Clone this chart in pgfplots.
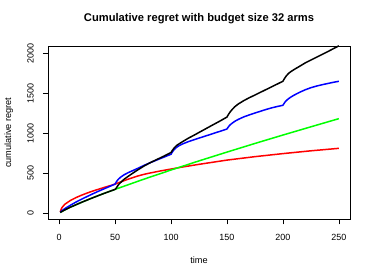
\documentclass[border=0pt]{standalone}
\usepackage{fontspec}
\setmainfont{Liberation Sans}
\usepackage{pgfplots}
\pgfplotsset{compat=1.18}
\begin{document}
\begin{tikzpicture}
\path[use as bounding box] (0,0) rectangle (374bp,279bp);
\begin{axis}[
  at={(48bp,59.7bp)}, anchor=south west,
  scale only axis, width=302bp, height=173.3bp,
  xmin=-9.96, xmax=259.96, ymin=-75, ymax=2091,
  xtick={0,50,...,250}, ytick={0,500,...,2000},
  tick align=outside, xtick pos=bottom, ytick pos=left,
  major tick length=5bp,
  tick style={black, line width=0.6bp},
  axis line style={line width=0.75bp, black},
  /pgf/number format/assume math mode=true,
  /pgf/number format/1000 sep={},
  ticklabel style={font=\fontsize{9}{10}\selectfont},
  xticklabel style={anchor=north, inner sep=0pt, yshift=-9.4bp},
  yticklabel style={rotate=90, anchor=south, inner sep=0pt, yshift=9bp},
  title={Cumulative regret with budget size 32 arms},
  title style={at={(axis description cs:0.5,1.108)}, anchor=base, inner sep=0pt, font=\fontsize{11.2}{12}\selectfont\bfseries},
  xlabel={time},
  xlabel style={at={(axis description cs:0.5,-0.2555)}, anchor=base, inner sep=0pt, font=\fontsize{9.2}{10}\selectfont},
  ylabel={cumulative regret},
  ylabel style={at={(axis description cs:-0.1225,0.5)}, rotate=0, anchor=base, inner sep=0pt, font=\fontsize{9.2}{10}\selectfont},
  every axis plot/.append style={line width=1.5bp, mark=none, line join=round},
]
\addplot[color={rgb,255:red,255;green,0;blue,0}] coordinates {
(1,15)(2,58)(3,80)(5,112)(10,160)(15,196)(20,226)(25,253)(30,278)(35,300)(40,322)(45,343)(50,365)(55,392)(60,418)(65,442)(70,465)(75,484)(80,500)(90,528)(100,553)(110,578)(125,612)(150,665)(175,708)(200,746)(225,781)(250,812)
};
\addplot[color={rgb,255:red,0;green,255;blue,0}] coordinates {
(1,11)(5,42)(10,76)(20,137)(30,194)(40,248)(50,299)(75,423)(100,541)(125,655)(150,765)(175,873)(200,978)(225,1081)(250,1183)
};
\addplot[color={rgb,255:red,0;green,0;blue,255}] coordinates {
(1,15)(3,38)(5,58)(10,100)(15,140)(20,176)(25,210)(30,243)(35,275)(40,305)(45,335)(50,365)(51,390)(52,410)(53,427)(55,452)(58,481)(62,510)(66,535)(70,560)(76,600)(82,636)(88,670)(94,704)(100,738)(101,762)(102,782)(103,798)(105,825)(107,843)(110,865)(115,893)(120,917)(125,940)(130,962)(135,985)(140,1008)(145,1030)(150,1054)(151,1075)(152,1093)(153,1108)(155,1130)(157,1150)(160,1173)(165,1205)(170,1230)(175,1253)(180,1276)(185,1298)(190,1318)(195,1335)(200,1350)(201,1372)(202,1392)(203,1408)(205,1432)(207,1452)(210,1477)(215,1513)(220,1544)(225,1570)(230,1590)(235,1607)(240,1622)(245,1637)(250,1650)
};
\addplot[color=black] coordinates {
(1,11)(5,42)(10,76)(20,137)(30,194)(40,248)(50,299)(51,315)(52,336)(53,356)(54,372)(56,398)(58,425)(62,465)(66,503)(70,540)(76,592)(82,637)(88,677)(94,717)(100,760)(101,782)(102,802)(103,820)(105,848)(108,875)(110,893)(115,935)(120,972)(126,1018)(132,1064)(138,1110)(144,1155)(150,1203)(151,1228)(152,1250)(153,1270)(155,1303)(157,1332)(160,1365)(165,1408)(170,1445)(175,1478)(180,1513)(185,1547)(190,1582)(195,1616)(200,1650)(201,1675)(202,1697)(203,1717)(205,1748)(207,1770)(210,1797)(215,1838)(220,1880)(225,1915)(230,1950)(235,1985)(240,2020)(245,2057)(250,2093)
};
\end{axis}
\end{tikzpicture}
\end{document}
